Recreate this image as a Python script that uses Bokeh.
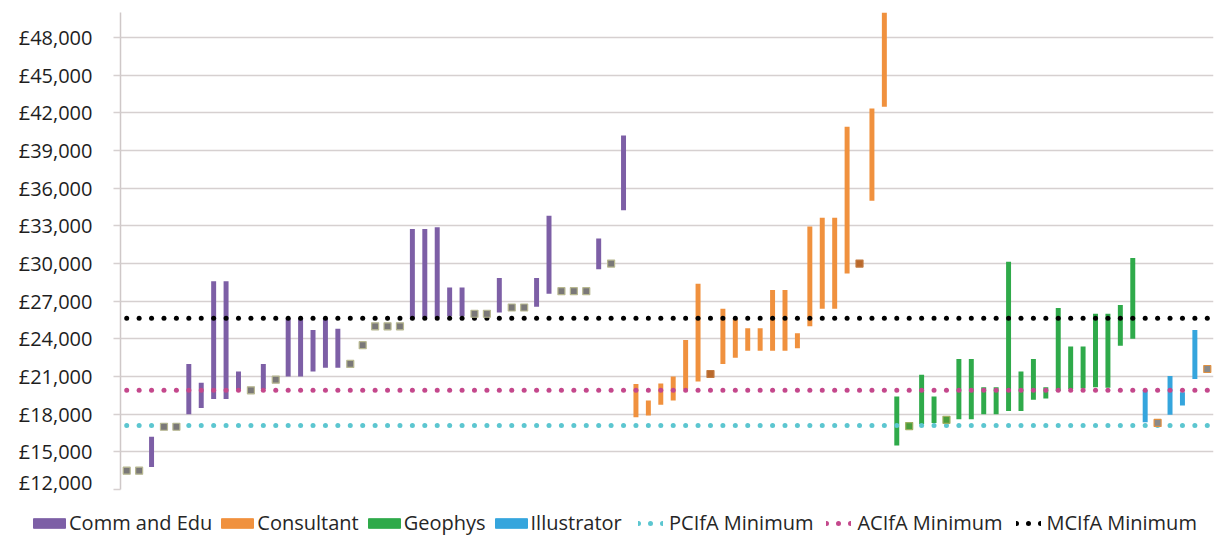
from bokeh.plotting import figure
from bokeh.layouts import column
from bokeh.models import Range1d, Legend, LegendItem, FixedTicker
from bokeh.embed import file_html
from bokeh.resources import INLINE

# ---------------- data (salary ranges, £) ----------------
comm_low = [13500, 13500, 13800, 17000, 17000, 18000, 18500, 19200, 19200, 19950,
            19900, 20000, 20750, 21000, 21000, 21400, 21700, 21700, 22000, 23500,
            25000, 25000, 25000, 25650, 25700, 25700, 25800, 25800, 26000, 26000,
            26100, 26500, 26500, 26550, 27600, 27800, 27800, 27800, 29550, 30000,
            34250]
comm_high = [13500, 13500, 16200, 17000, 17000, 22000, 20500, 28600, 28600, 21400,
             19900, 22000, 20750, 25650, 25650, 24700, 25650, 24800, 22000, 23500,
             25000, 25000, 25000, 32750, 32750, 32900, 28100, 28100, 26000, 26000,
             28850, 26500, 26500, 28850, 33800, 27800, 27800, 27800, 32000, 30000,
             40200]

consult_low = [17750, 17900, 18750, 19100, 20000, 20600, 21200, 22000, 22500, 23050,
               23050, 23050, 23050, 23250, 25000, 26400, 26400, 29200, 30000, 35000,
               42500]
consult_high = [20400, 19100, 20450, 21000, 23900, 28400, 21200, 26400, 25600, 24850,
                24850, 27900, 27900, 24450, 32950, 33650, 33650, 40900, 30000, 42350,
                52000]

geo_low = [15500, 17050, 17200, 17300, 17550, 17600, 17600, 18000, 18000, 18250,
           18250, 19150, 19250, 19850, 20000, 20050, 20150, 20100, 23450, 24000]
geo_high = [19400, 17050, 21150, 19400, 17550, 22400, 22400, 20150, 20150, 30150,
            21400, 22400, 20150, 26450, 23400, 23400, 26000, 26000, 26700, 30450]

illus_low = [17350, 17300, 17950, 18700, 20800, 21600]
illus_high = [19900, 17300, 21050, 19750, 24700, 21600]

pcifa_min = 17100
acifa_min = 19900
mcifa_min = 25650

series_names = ["Comm and Edu", "Consultant", "Geophys", "Illustrator"]
line_names = ["PCIfA Minimum", "ACIfA Minimum", "MCIfA Minimum"]

y_ticks = list(range(12000, 48001, 3000))
y_tick_labels = ["£{:,}".format(v) for v in y_ticks]

# ---------------- styles ----------------
bar_colors = ["#7d5fa6", "#f0913e", "#2faa4a", "#35a5dd"]
sq_fill = ["#7a7878", "#b9692c", "#4a9d3c", "#8a8a8a"]
sq_line = ["#b8b890", "#c27a40", "#9db060", "#e09040"]
line_colors = ["#5cc6d0", "#c4488c", "#000000"]
FONT = "Open Sans"

lows = [comm_low, consult_low, geo_low, illus_low]
highs = [comm_high, consult_high, geo_high, illus_high]
thresholds = [pcifa_min, acifa_min, mcifa_min]
n_total = sum(len(l) for l in lows)
all_x = list(range(n_total))

p = figure(width=1215, height=495, output_backend="svg", toolbar_location=None,
           x_range=Range1d(-0.5, n_total - 0.5), y_range=Range1d(12000, 50000),
           min_border_left=120, min_border_right=2, min_border_top=12,
           min_border_bottom=6)
p.frame_align = False
p.outline_line_color = None
p.xaxis.visible = False
p.xgrid.grid_line_color = None
p.ygrid.grid_line_color = "#d6d0d0"
p.ygrid.grid_line_width = 1.5

yax = p.yaxis[0]
yax.ticker = FixedTicker(ticks=y_ticks)
yax.major_label_overrides = dict(zip(y_ticks, y_tick_labels))
yax.axis_line_color = "#cfc8c8"
yax.axis_line_width = 1.5
yax.major_tick_line_color = "#d6d0d0"
yax.major_tick_line_width = 1.5
yax.major_tick_out = 7
yax.major_tick_in = 0
yax.minor_tick_line_color = None
yax.major_label_standoff = 21
yax.major_label_text_font = FONT
yax.major_label_text_font_size = "20px"
yax.major_label_text_color = "#1e1e1e"


def split(lo, hi, offset):
    xs = list(range(offset, offset + len(lo)))
    bars = ([x for x, a, b in zip(xs, lo, hi) if a != b],
            [a for a, b in zip(lo, hi) if a != b],
            [b for a, b in zip(lo, hi) if a != b])
    pts = ([x for x, a, b in zip(xs, lo, hi) if a == b],
           [a for a, b in zip(lo, hi) if a == b])
    return bars, pts


parts = []
offset = 0
for lo, hi in zip(lows, highs):
    parts.append(split(lo, hi, offset))
    offset += len(lo)

for k, (bars, pts) in enumerate(parts):
    p.vbar(x=bars[0], bottom=bars[1], top=bars[2], width=0.4,
           fill_color=bar_colors[k], line_color=bar_colors[k], line_width=0)

for val, c in zip(thresholds, line_colors):
    p.scatter(x=all_x, y=[val] * n_total, size=5, fill_color=c, line_color=c,
              line_width=0)

for k, (bars, pts) in enumerate(parts):
    p.scatter(x=pts[0], y=pts[1], marker="square", size=7, fill_color=sq_fill[k],
              line_color=sq_line[k], line_width=1.2)

# ---------------- legend strip (own frame spanning the full width) ----------------
lg = figure(width=1215, height=42, output_backend="svg", toolbar_location=None,
            x_range=Range1d(-0.5, n_total - 0.5), y_range=Range1d(12000, 50000),
            min_border_left=0, min_border_right=0, min_border_top=0,
            min_border_bottom=0)
lg.frame_align = False
lg.outline_line_color = None
lg.axis.visible = False
lg.grid.grid_line_color = None

bar_leg_r = [lg.vbar(x=bars[0], bottom=bars[1], top=bars[2], width=0.4,
                     fill_color=bar_colors[k], line_color=bar_colors[k],
                     visible=False)
             for k, (bars, pts) in enumerate(parts)]
line_leg_r = [lg.line(x=all_x, y=[val] * n_total, line_color=c, line_width=5,
                      line_dash="0 12", line_cap="round", visible=False)
              for val, c in zip(thresholds, line_colors)]

common = dict(orientation="horizontal", label_height=20,
              padding=0, margin=0, border_line_color=None,
              background_fill_alpha=0, inactive_fill_alpha=0,
              label_text_font=FONT, label_text_font_size="20px",
              label_text_color="#262626")
leg1 = Legend(items=[LegendItem(label=nm, renderers=[r])
                     for nm, r in zip(series_names, bar_leg_r)],
              location=(29, 1), glyph_width=40, glyph_height=12,
              label_standoff=0, spacing=5, **common)
leg2 = Legend(items=[LegendItem(label=nm, renderers=[r])
                     for nm, r in zip(line_names, line_leg_r)],
              location=(638, 1), glyph_width=25, glyph_height=10,
              label_standoff=6, spacing=13, **common)
lg.add_layout(leg1, "center")
lg.add_layout(leg2, "center")

layout = column(p, lg, spacing=0)
open("out.html", "w").write(file_html(layout, INLINE))
